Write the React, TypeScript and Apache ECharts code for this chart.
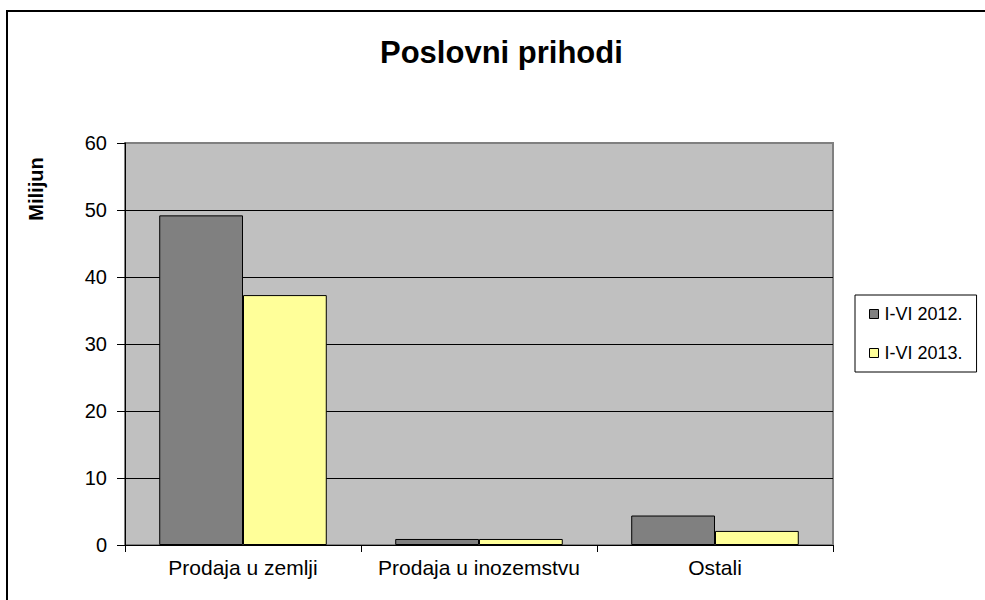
import React, { useEffect, useRef } from "react";
import * as echarts from "echarts";

const categories = ["Prodaja u zemlji", "Prodaja u inozemstvu", "Ostali"];
const series2012 = [49.2, 0.9, 4.4];
const series2013 = [37.3, 0.9, 2.1];
const seriesNames = ["I-VI 2012.", "I-VI 2013."];
const titleText = "Poslovni prihodi";
const yAxisTitle = "Milijun";

const FONT = "'Liberation Sans', Arial, sans-serif";

export default function App() {
  const ref = useRef<HTMLDivElement>(null);
  useEffect(() => {
    if (!ref.current) return;
    const chart = echarts.init(ref.current, null, { renderer: "svg" });
    chart.setOption({
      animation: false,
      backgroundColor: "#ffffff",
      title: {
        text: titleText,
        left: 380,
        top: 37,
        padding: 0,
        textStyle: { fontFamily: FONT, fontSize: 31, fontWeight: "bold", color: "#000" },
      },
      graphic: [
        {
          type: "rect",
          shape: { x: 7, y: 11, width: 1100, height: 700 },
          style: { fill: "none", stroke: "#000", lineWidth: 2 },
          z: 100,
        },
        {
          type: "text",
          x: 36,
          y: 189,
          rotation: Math.PI / 2,
          style: {
            text: yAxisTitle,
            fontFamily: FONT,
            fontSize: 20,
            fontWeight: "bold",
            fill: "#000",
            textAlign: "center",
            textVerticalAlign: "middle",
          },
        },
      ],
      legend: {
        orient: "vertical",
        left: 855,
        top: 295,
        padding: [10, 14, 10, 14],
        itemGap: 21,
        itemWidth: 9,
        itemHeight: 9,
        icon: "rect",
        borderColor: "#000",
        borderWidth: 1,
        backgroundColor: "#fff",
        itemStyle: { borderColor: "#000", borderWidth: 1 },
        textStyle: { fontFamily: FONT, fontSize: 18, color: "#000", padding: [0, 0, 0, 1] },
        data: seriesNames,
      },
      grid: {
        left: 125,
        right: 152,
        top: 143,
        bottom: 55,
        show: true,
        backgroundColor: "#c0c0c0",
        borderColor: "#808080",
        borderWidth: 2,
      },
      xAxis: {
        type: "category",
        data: categories,
        axisLine: { lineStyle: { color: "#000", width: 1 } },
        axisTick: { show: true, interval: 0, length: 7, lineStyle: { color: "#000" } },
        axisLabel: { fontFamily: FONT, fontSize: 21, color: "#000", margin: 12, interval: 0 },
      },
      yAxis: {
        type: "value",
        min: 0,
        max: 60,
        interval: 10,
        axisLine: { show: true, lineStyle: { color: "#000", width: 1 } },
        axisTick: { show: true, length: 8, lineStyle: { color: "#000" } },
        axisLabel: { fontFamily: FONT, fontSize: 20, color: "#000", margin: 18 },
        splitLine: { show: true, showMaxLine: false, lineStyle: { color: "#000", width: 1 } },
      },
      series: [
        {
          name: seriesNames[0],
          type: "bar",
          data: series2012,
          barGap: "0%",
          barCategoryGap: "29%",
          itemStyle: { color: "#808080", borderColor: "#000", borderWidth: 1 },
        },
        {
          name: seriesNames[1],
          type: "bar",
          data: series2013,
          barGap: "0%",
          barCategoryGap: "29%",
          itemStyle: { color: "#ffff99", borderColor: "#000", borderWidth: 1 },
        },
      ],
    });
    return () => chart.dispose();
  }, []);
  return (
    <div
      ref={ref}
      style={{ position: "fixed", left: 0, top: 0, width: 985, height: 600 }}
    />
  );
}
